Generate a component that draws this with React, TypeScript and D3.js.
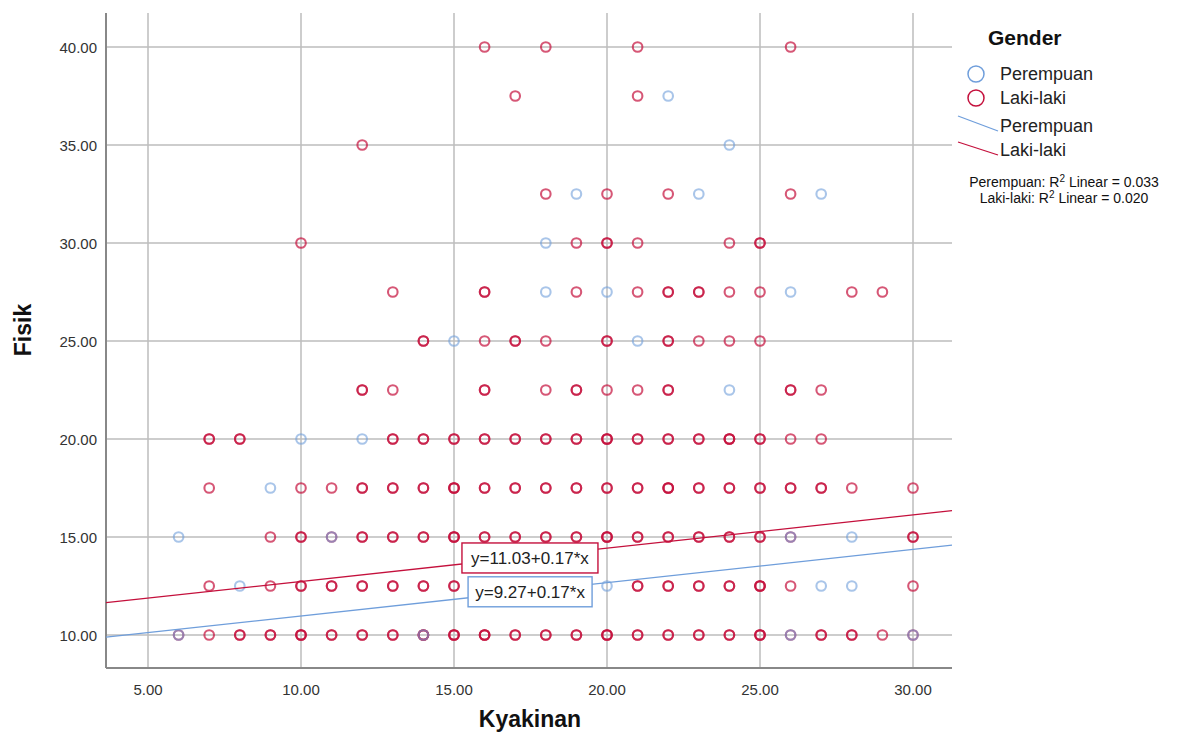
import React from 'react';
import * as d3 from 'd3';

const WIDTH = 1183;
const HEIGHT = 744;
const PLOT = { left: 106, right: 952, top: 13, bottom: 668 };

const X_TICKS = [5, 10, 15, 20, 25, 30];
const Y_TICKS = [10, 15, 20, 25, 30, 35, 40];
const X_TITLE = 'Kyakinan';
const Y_TITLE = 'Fisik';
const LEGEND_TITLE = 'Gender';
const GROUPS = ['Perempuan', 'Laki-laki'];

// [kyakinan, fisik, number of overlapping cases]
const LAKI_POINTS: [number, number, number][] = [
  [16, 40, 1], [18, 40, 1], [21, 40, 1], [26, 40, 1],
  [17, 37.5, 1], [21, 37.5, 1],
  [12, 35, 1],
  [18, 32.5, 1], [20, 32.5, 1], [22, 32.5, 1], [26, 32.5, 1],
  [10, 30, 1], [19, 30, 1], [20, 30, 2], [21, 30, 1], [24, 30, 1], [25, 30, 2],
  [13, 27.5, 1], [16, 27.5, 2], [19, 27.5, 1], [21, 27.5, 1], [22, 27.5, 2], [23, 27.5, 2],
  [24, 27.5, 1], [25, 27.5, 1], [28, 27.5, 1], [29, 27.5, 1],
  [14, 25, 2], [16, 25, 1], [17, 25, 2], [18, 25, 1], [20, 25, 2], [22, 25, 2], [23, 25, 1],
  [24, 25, 1], [25, 25, 1],
  [12, 22.5, 2], [13, 22.5, 1], [16, 22.5, 2], [18, 22.5, 1], [19, 22.5, 2], [20, 22.5, 1],
  [21, 22.5, 1], [22, 22.5, 2], [26, 22.5, 2], [27, 22.5, 1],
  [7, 20, 2], [8, 20, 2], [13, 20, 2], [14, 20, 2], [15, 20, 2], [16, 20, 2], [17, 20, 2],
  [18, 20, 2], [19, 20, 2], [20, 20, 3], [21, 20, 2], [22, 20, 2], [23, 20, 2], [24, 20, 3],
  [25, 20, 2], [26, 20, 1], [27, 20, 1],
  [7, 17.5, 1], [10, 17.5, 1], [11, 17.5, 1], [12, 17.5, 2], [13, 17.5, 2], [14, 17.5, 2],
  [15, 17.5, 3], [16, 17.5, 2], [17, 17.5, 2], [18, 17.5, 2], [19, 17.5, 2], [20, 17.5, 2],
  [21, 17.5, 2], [22, 17.5, 3], [23, 17.5, 2], [24, 17.5, 2], [25, 17.5, 2], [26, 17.5, 2],
  [27, 17.5, 2], [28, 17.5, 1], [30, 17.5, 1],
  [9, 15, 1], [10, 15, 2], [11, 15, 1], [12, 15, 2], [13, 15, 2], [14, 15, 2], [15, 15, 3],
  [16, 15, 2], [17, 15, 2], [18, 15, 2], [19, 15, 2], [20, 15, 3], [21, 15, 2], [22, 15, 2],
  [23, 15, 2], [24, 15, 2], [25, 15, 2], [26, 15, 1], [30, 15, 2],
  [7, 12.5, 1], [9, 12.5, 1], [10, 12.5, 2], [11, 12.5, 2], [12, 12.5, 2], [13, 12.5, 2],
  [14, 12.5, 2], [15, 12.5, 2], [16, 12.5, 2], [17, 12.5, 2], [18, 12.5, 2], [19, 12.5, 2],
  [21, 12.5, 2], [22, 12.5, 2], [23, 12.5, 2], [24, 12.5, 2], [25, 12.5, 3], [26, 12.5, 1],
  [30, 12.5, 1],
  [6, 10, 1], [7, 10, 1], [8, 10, 2], [9, 10, 2], [10, 10, 3], [11, 10, 2], [12, 10, 2],
  [13, 10, 2], [14, 10, 3], [15, 10, 3], [16, 10, 3], [17, 10, 2], [18, 10, 2], [19, 10, 2],
  [20, 10, 3], [21, 10, 2], [22, 10, 2], [23, 10, 2], [24, 10, 2], [25, 10, 3], [26, 10, 1],
  [27, 10, 2], [28, 10, 2], [29, 10, 1], [30, 10, 1],
];

const PEREMPUAN_POINTS: [number, number, number][] = [
  [22, 37.5, 1], [24, 35, 1], [19, 32.5, 1], [23, 32.5, 1], [27, 32.5, 1], [18, 30, 1],
  [18, 27.5, 1], [20, 27.5, 1], [26, 27.5, 1], [15, 25, 1], [21, 25, 1], [24, 22.5, 1],
  [10, 20, 1], [12, 20, 1], [9, 17.5, 1], [6, 15, 1], [11, 15, 1], [26, 15, 1], [28, 15, 1],
  [8, 12.5, 1], [20, 12.5, 1], [27, 12.5, 1], [28, 12.5, 1], [6, 10, 1], [14, 10, 1],
  [26, 10, 1], [30, 10, 1],
];

// linear fits: intercept, slope, R²
const FIT_INTERCEPT = [9.27, 11.03];
const FIT_SLOPE = [0.17, 0.17];
const FIT_R2 = ['0.033', '0.020'];

const COLORS = ['#6f9edb', '#c4103c'];
const FONT = '"Liberation Sans", Arial, sans-serif';

export default function App() {
  const x = d3.scaleLinear().domain([5, 30]).range([148, 913]);
  const y = d3.scaleLinear().domain([10, 40]).range([635, 47]);
  const xMin = x.invert(PLOT.left);
  const xMax = x.invert(PLOT.right);

  const fitLine = (g: number) =>
    d3
      .line<number>()
      .x((v) => x(v))
      .y((v) => y(FIT_INTERCEPT[g] + FIT_SLOPE[g] * v))([xMin, xMax]) ?? '';

  const expand = (pts: [number, number, number][]) =>
    pts.flatMap(([k, f, n]) => d3.range(n).map((i) => ({ k, f, i })));

  const series = [expand(PEREMPUAN_POINTS), expand(LAKI_POINTS)];

  // equation boxes, laki-laki on top
  const boxes = [
    { g: 1, at: 15.26, w: 136, text: `y=${FIT_INTERCEPT[1].toFixed(2)}+${FIT_SLOPE[1].toFixed(2)}*x` },
    { g: 0, at: 15.46, w: 124, text: `y=${FIT_INTERCEPT[0].toFixed(2)}+${FIT_SLOPE[0].toFixed(2)}*x` },
  ];

  return (
    <svg
      width={WIDTH}
      height={HEIGHT}
      style={{ position: 'absolute', left: 0, top: 0, background: '#fff' }}
      fontFamily={FONT}
    >
      {/* grid */}
      {X_TICKS.map((t) => (
        <line key={`gx${t}`} x1={x(t)} x2={x(t)} y1={PLOT.top} y2={PLOT.bottom} stroke="#bdbdbd" strokeWidth={1.5} />
      ))}
      {Y_TICKS.map((t) => (
        <line key={`gy${t}`} x1={PLOT.left} x2={PLOT.right} y1={y(t)} y2={y(t)} stroke="#bdbdbd" strokeWidth={1.5} />
      ))}
      <line x1={PLOT.left} x2={PLOT.left} y1={PLOT.top} y2={PLOT.bottom} stroke="#888" strokeWidth={2} />
      <line x1={PLOT.left} x2={PLOT.right} y1={PLOT.bottom} y2={PLOT.bottom} stroke="#888" strokeWidth={2} />

      {/* tick labels */}
      {X_TICKS.map((t) => (
        <text key={`tx${t}`} x={x(t)} y={695} textAnchor="middle" fontSize={15} fill="#333">
          {t.toFixed(2)}
        </text>
      ))}
      {Y_TICKS.map((t) => (
        <text key={`ty${t}`} x={97} y={y(t) + 5.5} textAnchor="end" fontSize={15} fill="#333">
          {t.toFixed(2)}
        </text>
      ))}

      {/* points */}
      {[1, 0].map((g) =>
        series[g].map((p, i) => (
          <circle
            key={`p${g}-${i}`}
            cx={x(p.k)}
            cy={y(p.f)}
            r={4.8}
            fill="none"
            stroke={COLORS[g]}
            strokeOpacity={g === 1 ? 0.7 : 0.6}
            strokeWidth={2.1}
          />
        ))
      )}

      {/* fit lines */}
      {[0, 1].map((g) => (
        <path key={`fit${g}`} d={fitLine(g)} stroke={COLORS[g]} strokeWidth={1.3} fill="none" />
      ))}

      {/* equation boxes */}
      {boxes.map((b) => {
        const bx = x(b.at);
        const cy = y(FIT_INTERCEPT[b.g] + FIT_SLOPE[b.g] * b.at) - 6;
        return (
          <g key={`box${b.g}`}>
            <rect x={bx} y={cy - 15} width={b.w} height={30} fill="#fff" stroke={COLORS[b.g]} strokeWidth={1.4} />
            <text x={bx + b.w / 2} y={cy + 6} textAnchor="middle" fontSize={17} fill="#222">
              {b.text}
            </text>
          </g>
        );
      })}

      {/* axis titles */}
      <text x={530} y={727} textAnchor="middle" fontSize={23} fontWeight="bold" fill="#111">
        {X_TITLE}
      </text>
      <text transform="translate(31,330) rotate(-90)" textAnchor="middle" fontSize={23} fontWeight="bold" fill="#111">
        {Y_TITLE}
      </text>

      {/* legend */}
      <text x={988} y={45} fontSize={21} fontWeight="bold" fill="#111">
        {LEGEND_TITLE}
      </text>
      {GROUPS.map((name, g) => (
        <g key={`lc${g}`}>
          <circle cx={976} cy={74 + g * 24} r={8} fill="none" stroke={COLORS[g]} strokeWidth={1.5} />
          <text x={1000} y={80 + g * 24} fontSize={18} fill="#222">{name}</text>
        </g>
      ))}
      {GROUPS.map((name, g) => (
        <g key={`ll${g}`}>
          <line x1={958} y1={116 + g * 26} x2={998} y2={131 + g * 24} stroke={COLORS[g]} strokeWidth={1.3} />
          <text x={1000} y={132 + g * 24} fontSize={18} fill="#222">{name}</text>
        </g>
      ))}
      {GROUPS.map((name, g) => (
        <text key={`r2${g}`} x={1064} y={187 + g * 16} textAnchor="middle" fontSize={14} fill="#111">
          {name}: R<tspan dy={-5} fontSize={10}>2</tspan>
          <tspan dy={5}> Linear = {FIT_R2[g]}</tspan>
        </text>
      ))}
    </svg>
  );
}
